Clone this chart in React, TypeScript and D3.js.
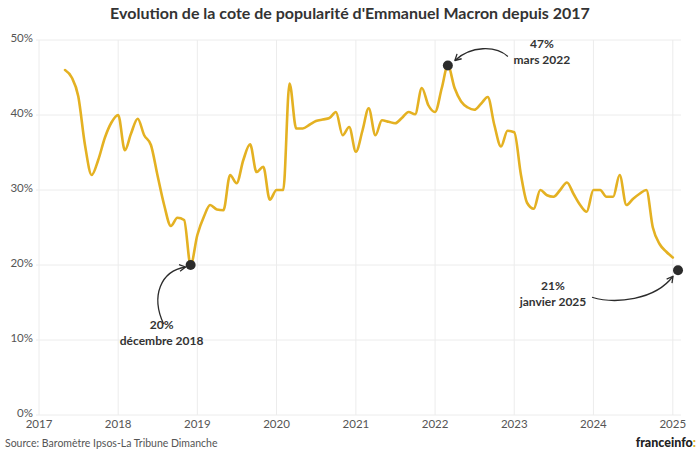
import React from "react";
import * as d3 from "d3";

const title = "Evolution de la cote de popularité d'Emmanuel Macron depuis 2017";
const sourceText = "Source: Baromètre Ipsos-La Tribune Dimanche";
const yearTicks = [2017, 2018, 2019, 2020, 2021, 2022, 2023, 2024, 2025];
const percentTicks = [0, 10, 20, 30, 40, 50];

// Monthly popularity, starting May 2017
const firstMonth = [2017, 4]; // year, month index (0 = January)
const popularity2017 = [46, 45, 42.5, 36, 32, 34, 37, 39];
const popularity2018 = [40, 35.3, 37.5, 39.5, 37.3, 36, 32, 28, 25.2, 26.3, 26, 20];
const popularity2019 = [24, 26.5, 28, 27.4, 27.3, 32, 30.9, 34, 36.1, 32.4, 33.1, 28.7];
const popularity2020 = [30, 30, 44.2, 38.2, 38.2, 38.7, 39.2, 39.4, 39.6, 40.4, 37.3, 38.4];
const popularity2021 = [35.1, 38, 40.9, 37.3, 39.3, 39.1, 38.9, 39.6, 40.4, 40.1, 43.6, 41.3];
const popularity2022 = [40.4, 43.6, 46.6, 43.6, 41.8, 41, 40.7, 41.5, 42.4, 38.7, 35.8, 37.9];
const popularity2023 = [37.7, 32, 28.3, 27.5, 30, 29.3, 29.1, 30, 31, 29.5, 28, 27.1];
const popularity2024 = [30, 30, 29.1, 29.1, 32, 28, 28.8, 29.5, 30, 25, 22.8, 21.8];
const popularity2025 = [21];

const popularity = [
  ...popularity2017,
  ...popularity2018,
  ...popularity2019,
  ...popularity2020,
  ...popularity2021,
  ...popularity2022,
  ...popularity2023,
  ...popularity2024,
  ...popularity2025,
];

const annotationDates = ["2018-12-01", "2022-03-01", "2025-01-25"];
const annotationValues = [20, 46.6, 19.3];
const annotationLabels = [
  ["20%", "décembre 2018"],
  ["47%", "mars 2022"],
  ["21%", "janvier 2025"],
];

// layout of the annotation labels and arrows (pixel offsets from each dot)
const annotationLayout = [
  { lx: -29, ly: 64, arrow: [[-27, 59], [-40, 31], [-30, 6], [-5, 2]] },
  { lx: 94, ly: -18, arrow: [[60, -9], [48, -20], [23, -20], [7, -5]] },
  { lx: -125, ly: 20, arrow: [[-86, 27], [-63, 34], [-23, 30], [-5, 6]] },
];

const W = 700;
const H = 450;
const FONT = "Lato, 'Open Sans', sans-serif";
const LINE_COLOR = "#E4B122";
const GRID = "#ececec";
const TEXT = "#555";
const DARK = "#2b2b2b";

export default function App() {
  const x = d3
    .scaleUtc()
    .domain([new Date(Date.UTC(2017, 0, 1)), new Date(Date.UTC(2025, 0, 1))])
    .range([39, 672.8]);
  const y = d3.scaleLinear().domain([0, 50]).range([415, 40]);

  const data = popularity.map((v, i) => ({
    date: new Date(Date.UTC(firstMonth[0], firstMonth[1] + i, 1)),
    value: v,
  }));

  const line = d3
    .line<{ date: Date; value: number }>()
    .x((d) => x(d.date))
    .y((d) => y(d.value))
    .curve(d3.curveMonotoneX);

  const gridLeft = 36;
  const gridRight = 681;

  return (
    <svg
      width={W}
      height={H}
      viewBox={`0 0 ${W} ${H}`}
      style={{ position: "absolute", left: 0, top: 0, background: "#fff" }}
      fontFamily={FONT}
    >
      <rect x={0} y={0} width={W} height={H} fill="#fff" />
      <text
        x={350}
        y={19}
        textAnchor="middle"
        fontSize={16}
        fontWeight={700}
        fill="#333"
      >
        {title}
      </text>

      {/* horizontal grid */}
      {percentTicks.map((t) => (
        <line
          key={"h" + t}
          x1={gridLeft}
          x2={gridRight}
          y1={y(t)}
          y2={y(t)}
          stroke={GRID}
          strokeWidth={1}
        />
      ))}
      {/* vertical grid */}
      {yearTicks.map((yr) => {
        const xx = x(new Date(Date.UTC(yr, 0, 1)));
        return (
          <line
            key={"v" + yr}
            x1={xx}
            x2={xx}
            y1={y(50)}
            y2={y(0)}
            stroke={GRID}
            strokeWidth={1}
          />
        );
      })}

      {/* y labels */}
      {percentTicks.map((t) => (
        <text
          key={"yl" + t}
          x={33}
          y={y(t) + 2}
          textAnchor="end"
          fontSize={11.5}
          fill={TEXT}
        >
          {t + "%"}
        </text>
      ))}
      {/* x labels */}
      {yearTicks.map((yr) => (
        <text
          key={"xl" + yr}
          x={x(new Date(Date.UTC(yr, 0, 1)))}
          y={428}
          textAnchor="middle"
          fontSize={11.5}
          fill={TEXT}
        >
          {yr}
        </text>
      ))}

      <path
        d={line(data) || ""}
        fill="none"
        stroke={LINE_COLOR}
        strokeWidth={2.6}
        strokeLinejoin="round"
        strokeLinecap="round"
      />

      {annotationDates.map((ds, i) => {
        const cx = x(new Date(ds + "T00:00:00Z"));
        const cy = y(annotationValues[i]);
        const lay = annotationLayout[i];
        const p = lay.arrow.map(([dx, dy]) => [cx + dx, cy + dy]);
        const path = `M${p[0][0]},${p[0][1]} C${p[1][0]},${p[1][1]} ${p[2][0]},${p[2][1]} ${p[3][0]},${p[3][1]}`;
        const ang = Math.atan2(p[3][1] - p[2][1], p[3][0] - p[2][0]);
        const hl = 7;
        const a1 = ang + Math.PI - 0.5;
        const a2 = ang + Math.PI + 0.5;
        const head = `M${p[3][0] + hl * Math.cos(a1)},${p[3][1] + hl * Math.sin(a1)} L${p[3][0]},${p[3][1]} L${p[3][0] + hl * Math.cos(a2)},${p[3][1] + hl * Math.sin(a2)}`;
        return (
          <g key={"a" + i}>
            <path d={path} fill="none" stroke={DARK} strokeWidth={1.3} />
            <path d={head} fill="none" stroke={DARK} strokeWidth={1.3} strokeLinejoin="round" />
            <circle cx={cx} cy={cy} r={5} fill={DARK} />
            <text
              x={cx + lay.lx}
              y={cy + lay.ly}
              textAnchor="middle"
              fontSize={12}
              fontWeight={700}
              fill="#333"
            >
              {annotationLabels[i][0]}
            </text>
            <text
              x={cx + lay.lx}
              y={cy + lay.ly + 16}
              textAnchor="middle"
              fontSize={12}
              fontWeight={700}
              fill="#333"
            >
              {annotationLabels[i][1]}
            </text>
          </g>
        );
      })}

      <text x={5} y={447} fontSize={10.5} fill={TEXT}>
        {sourceText}
      </text>
      <text x={696} y={447} textAnchor="end" fontSize={12.5} fontWeight={900} fill="#222">
        franceinfo
        <tspan fill={LINE_COLOR}>:</tspan>
      </text>
    </svg>
  );
}
